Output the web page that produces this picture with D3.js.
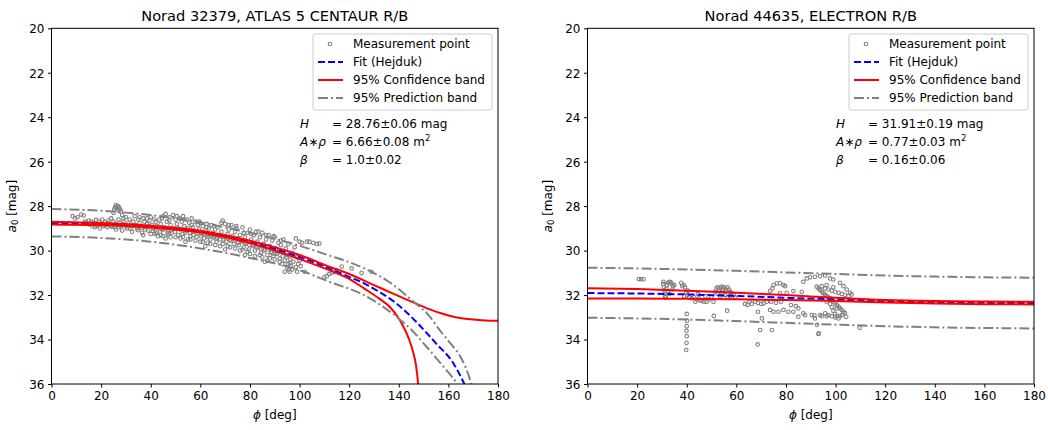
<!DOCTYPE html>
<html>
<head>
<meta charset="utf-8">
<script src="https://cdn.jsdelivr.net/npm/d3@7/dist/d3.min.js"></script>
<style>
  body { margin: 0; background: #fff; }
  svg { font-family: "DejaVu Sans", sans-serif; }
</style>
</head>
<body>
<svg id="chart" width="1048" height="430"></svg>
<script>
// ---- data ----
const xTicks = [0, 20, 40, 60, 80, 100, 120, 140, 160, 180];
const yTicks = [20, 22, 24, 26, 28, 30, 32, 34, 36];
const legendLabels = ["Measurement point", "Fit (Hejduk)", "95% Confidence band", "95% Prediction band"];

const titles = ["Norad 32379, ATLAS 5 CENTAUR R/B", "Norad 44635, ELECTRON R/B"];
const fitParams = [
  ["28.76±0.06 mag", "6.66±0.08 m", "1.0±0.02"],
  ["31.91±0.19 mag", "0.77±0.03 m", "0.16±0.06"]
];

// left: ATLAS 5 CENTAUR R/B
const leftFit = [[0,28.76],[20,28.8],[40,28.92],[60,29.15],[80,29.61],[100,30.29],[112,30.8],[120,31.18],[126,31.47],[132,31.85],[139,32.37],[147,33.2],[155,34.17],[162,35.07],[166,35.9],[168,36.4]];
const leftConfUp = [[0,28.7],[20,28.76],[40,28.88],[60,29.11],[80,29.56],[100,30.2],[112,30.72],[120,31.05],[130,31.55],[140,32.05],[146,32.34],[152,32.62],[157,32.82],[163,33.0],[169,33.09],[175,33.14],[180,33.15]];
const leftConfLo = [[0,28.82],[20,28.85],[40,28.96],[60,29.19],[80,29.66],[100,30.38],[112,30.88],[120,31.27],[126,31.7],[132,32.15],[136.5,32.55],[140,33.05],[142,33.45],[144,33.95],[145.5,34.45],[147,35.2],[147.8,36.0],[148.3,36.8]];
const leftPredUp = [[0,28.13],[20,28.21],[40,28.4],[60,28.73],[80,29.2],[100,29.78],[112,30.22],[120,30.52],[128,30.9],[136,31.4],[146,32.3],[152,32.9],[157,33.65],[161,34.2],[165,34.8],[169,35.9],[170.5,36.5]];
const leftPredLo = [[0,29.36],[20,29.43],[40,29.6],[60,29.9],[80,30.33],[100,30.88],[112,31.4],[126,32.0],[139,32.97],[145,33.55],[150,34.17],[158,35.22],[163.5,36.0],[165,36.3]];
const leftPoints = [
  [8.5,28.45],[9.5,28.55],[10.5,28.5],[12,28.38],[13,28.42],[13.5,28.7],[14,28.75],[15,28.65],[15.5,28.8],[16,28.7],[16.5,28.9],[17,28.75],[17.5,28.95],[18,28.62],[18.5,28.85],[19,28.7],[19.5,29.0],[20,28.78],[20.5,28.6],[21,28.9],[21.5,28.72],[22,28.85],[22.5,28.95],[23,28.65],[23.5,28.8],[24,28.55],[24.5,28.9],
  [25,28.3],[25.3,28.15],[25.6,28.05],[26,27.95],[26.3,28.1],[26.7,28.0],[27,28.2],[27.3,28.05],[27.7,28.15],[28,28.25],[28.5,28.4],[29,28.55],
  [25,28.7],[25.5,28.95],[26,29.05],[26.5,28.85],[27,28.6],[27.5,28.75],[28,28.9],[28.5,29.1],[29,28.7],[29.5,28.85],[30,28.5],[30.5,29.0],[31,28.75],[31.5,28.6],[32,28.9],[32.5,29.15],[33,28.7],[33.5,28.45],[34,28.85],[34.5,29.0],[35,28.6],[35.5,28.75],[36,28.9],[36.5,29.2],[37,28.55],[37.5,28.7],[38,28.95],[38.5,28.8],[39,29.1],[39.5,28.65],
  [40,28.5],[40.5,28.85],[41,29.0],[41.5,29.25],[42,28.7],[42.5,28.9],[43,29.35],[43.5,28.6],[44,28.8],[44.5,29.05],[45,28.45],[45.5,28.95],[46,28.35],[46.5,28.7],[47,29.1],[47.5,28.5],[48,28.85],[48.5,29.2],[49,28.4],[49.5,29.0],[50,28.6],[50.5,28.8],[51,29.3],[51.5,28.55],[52,29.05],[52.5,28.7],[53,28.45],[53.5,28.9],[54,29.2],[54.5,28.6],[55,29.0],[55.5,28.75],[56,29.35],[56.5,28.55],[57,28.95],[57.5,29.15],[58,28.7],[58.5,29.4],[59,28.85],[59.5,29.05],
  [60,28.75],[60.5,29.25],[61,28.9],[61.5,29.45],[62,29.1],[62.5,28.8],[63,29.3],[63.5,29.0],[64,29.5],[64.5,28.85],[65,29.2],[65.5,29.4],[66,29.05],[66.5,29.6],[67,28.95],[67.5,29.3],[68,29.5],[68.5,29.15],[69,28.65],[69.5,29.4],[70,28.8],[70.5,29.6],[71,29.25],[71.5,29.05],[72,29.5],[72.5,28.85],[73,29.35],[73.5,29.7],[74,29.15],[74.5,28.9],[75,29.45],[75.5,29.75],[76,29.3],[76.5,29.55],[77,28.95],[77.5,29.85],[78,29.4],[78.5,29.65],[79,29.2],[79.5,29.95],
  [80,29.05],[80.5,29.5],[81,29.75],[81.5,29.3],[82,30.0],[82.5,29.15],[83,29.6],[83.5,29.85],[84,29.4],[84.5,30.1],[85,29.2],[85.5,29.7],[86,29.95],[86.5,29.5],[87,30.2],[87.5,29.3],[88,29.8],[88.5,30.05],[89,29.55],[89.5,30.25],[90,29.4],[90.5,29.9],[91,30.15],[91.5,29.65],[92,30.35],[92.5,29.75],[93,30.05],[93.5,29.5],[94,30.45],[94.5,29.9],[95,30.2],[95.3,30.6],[95.6,30.85],[96,30.95],[96.3,30.4],[96.6,30.7],[97,30.1],[97.5,30.5],[98,29.85],[98.5,30.75],[99,30.3],[99.5,30.6],
  [100,29.6],[100.5,30.7],[101,29.65],[102,30.95],[103,29.6],[104,29.6],[105.5,29.65],[107,29.7],[108,29.68],[110,31.2],[111,31.15],[112,31.05],[113,31.0],[114,30.95],[115,30.9],[117,30.72],[121,30.8],[125,31.0],[129,30.95],
  [15.2,28.82],[16.8,28.78],[18.3,28.88],[19.7,28.8],[21.2,28.83],[22.8,28.76],[24.2,28.92],[25.8,28.8],[27.2,28.95],[28.8,28.82],[30.2,28.92],[31.8,29.02],[33.2,28.88],[34.8,29.08],[36.2,28.98],[37.8,29.05],[39.2,28.9],[40.8,29.12],[42.2,29.0],[43.8,29.15],[45.2,29.05],[46.8,29.2],[48.2,29.1],[49.8,29.15],[51.2,29.0],[52.8,29.25],[54.2,29.1],[55.8,29.2],[57.2,29.3],[58.8,29.2],
  [60.2,29.35],[61.8,29.25],[63.2,29.4],[64.8,29.3],[66.2,29.45],[67.8,29.35],[69.2,29.5],[70.8,29.4],[72.2,29.55],[73.8,29.5],[75.2,29.65],[76.8,29.6],[78.2,29.7],[79.8,29.75],[81.2,29.8],[82.8,29.85],[84.2,29.9],[85.8,30.0],[87.2,29.95],[88.8,30.1],[90.2,30.15],[91.8,30.05],[93.2,30.25],[94.8,30.3],
  [35.5,28.5],[38.5,28.55],[41.5,28.6],[44.5,28.55],[47.5,28.65],[50.5,28.45],[53.5,28.6],[56.5,28.85],[59.5,28.7],[62.5,28.95],[65.5,28.9],[68.5,28.75],[71.5,28.85],[74.5,29.0],[77.5,29.2],[80.5,29.25],[83.5,29.15],[86.5,29.3],[89.5,29.35],[92.5,29.55],[95.5,29.7],[98.5,29.45],
  [37,29.3],[40,29.25],[44,29.3],[48,29.4],[52,29.45],[56,29.5],[60,29.6],[64,29.7],[68,29.8],[72,29.85],[76,30.0],[80,30.15],[84,30.2],[88,30.35],[92,30.5],[96,30.55],[100,30.45],
  [42,29.2],[45,29.35],[47,29.28],[50,29.4],[53,29.38],[55,29.5],[58,29.55],[61,29.6],[63,29.65],[66,29.75],[69,29.7],[71,29.8],[74,29.9],[77,29.95],[79,30.05],[82,30.25],[85,30.3],[87,30.45],[90,30.4],[93,30.6],[95,30.75],[97,30.85],
  [46,29.45],[54,29.6],[62,29.8],[70,29.95],[78,30.2],[86,30.5],[94,30.95],[99,30.95]
];

// right: ELECTRON R/B
const rightFit = [[0,31.91],[20,31.93],[40,31.97],[60,32.04],[80,32.12],[100,32.2],[120,32.28],[140,32.33],[160,32.35],[180,32.36]];
const rightConfUp = [[0,31.69],[20,31.73],[40,31.8],[60,31.9],[80,32.0],[100,32.12],[120,32.22],[140,32.27],[160,32.29],[180,32.3]];
const rightConfLo = [[0,32.15],[20,32.15],[40,32.17],[60,32.19],[80,32.22],[100,32.27],[120,32.33],[140,32.38],[160,32.41],[180,32.42]];
const rightPredUp = [[0,30.77],[20,30.8],[40,30.85],[60,30.91],[80,30.98],[100,31.05],[120,31.12],[140,31.17],[160,31.2],[180,31.22]];
const rightPredLo = [[0,33.02],[20,33.05],[40,33.1],[60,33.17],[80,33.25],[100,33.33],[120,33.4],[140,33.45],[160,33.48],[180,33.5]];
const rightPoints = [
  [20.7,31.28],[21.6,31.28],[22.6,31.29],
  [30.5,31.5],[30.8,31.65],[31,31.8],[31.2,31.95],[31.5,32.05],[32,31.55],[32.5,31.45],[33,31.4],[33.5,31.42],[34,31.5],[34.5,31.6],[35,31.55],[31.8,31.7],[32.3,31.85],[33,31.95],[31.3,32.1],[30.6,31.4],[34.2,31.75],
  [37.8,31.45],[38.2,31.6],[38.8,31.55],[39.3,31.65],[39.8,31.9],[40.2,32.0],[40.5,31.8],[39,32.05],
  [40,32.85],[40.1,33.15],[40,33.4],[39.9,33.6],[40,33.85],[39.9,34.15],[39.8,34.47],
  [41,32.1],[42,32.15],[43,32.1],[44,32.2],[45,32.15],[46,32.25],[47,32.3],[48,32.3],[49,32.2],[50,32.1],[43.5,32.3],[45.5,32.25],[44.5,31.95],[47.5,32.05],[50.8,32.3],[50.9,32.94],
  [51.5,31.85],[52,31.7],[52.5,31.65],[53,31.8],[53.5,31.7],[54,31.62],[54.5,31.75],[55,31.65],[55.5,31.7],[56,31.8],[56.5,31.65],[57,31.75],[57.5,31.85],[58,31.9],[52.5,31.95],[53.5,32.05],[54.5,31.9],[55.5,32.0],[56.5,32.1],[57.5,32.05],[56.3,32.7],
  [59,32.0],[59.5,32.1],[63.5,32.4],[64.5,32.45],[65.3,32.3],[66.2,32.4],[67.6,32.3],[68.7,32.35],
  [68.7,32.75],[68.6,34.22],[69.6,33.57],[70.3,33.05],[74.3,33.57],
  [73.6,31.82],[75,31.55],[76.3,31.47],[77.6,31.47],[79,31.55],[79.7,31.6],[77.6,31.92],[80.3,31.9],[83,31.82],[86.4,31.85],[74.5,31.7],
  [71,32.37],[72.3,32.3],[73.6,32.67],[75,32.75],[77,32.75],[79,32.67],[81,32.75],[83,32.75],[85,32.6],[85,32.97],[87,32.82],[70,32.4],[74,32.3],[76,32.35],[78,32.3],[82,32.45],[84,32.5],
  [87,31.4],[88.4,31.25],[89.7,31.2],[91.7,31.18],[93.8,31.15],[95.8,31.12],[97.8,31.25],[99.1,31.3],[101.8,31.45],[103.2,31.6],[104.5,31.75],[105.8,31.9],[106.5,31.97],
  [87.7,32.9],[90.4,32.9],[91.7,33.05],[92.5,33.34],[93.2,33.72],[93.8,32.9],[95.8,32.82],[109.7,33.47],
  [92.4,31.62],[93.1,31.7],[93.8,31.77],[94.4,31.85],[95.1,31.92],[95.8,31.98],[96.4,32.05],[97.1,32.1],[97.8,32.15],[98.5,32.22],[99.1,32.3],[99.8,32.37],[100.5,32.45],[101.2,32.52],[101.8,32.6],[102.5,32.67],[103.2,32.75],[103.8,32.8],
  [94.4,31.6],[95.8,31.7],[97.1,31.75],[98.5,31.8],[99.8,31.85],[101.2,31.9],[102.5,31.95],[103.8,32.0],[105.2,32.05],[96.4,31.55],[99.1,31.65],
  [97.8,32.4],[98.5,32.55],[99.1,32.7],[99.8,32.85],[100.5,32.95],[101.2,33.05],[98.5,32.95],[99.8,33.0],[101.8,32.95],[96.4,32.3],[100.5,32.6],[97.1,32.9],
  [91.5,32.92],[94.4,32.95],[96.4,32.95],[102.5,32.9],[104.3,32.98],[93.1,33.75]
];

const panels = [
  { x0: 51.5, x1: 498, title: titles[0], params: fitParams[0], points: leftPoints,
    fit: leftFit, confUp: leftConfUp, confLo: leftConfLo, predUp: leftPredUp, predLo: leftPredLo },
  { x0: 587.5, x1: 1034, title: titles[1], params: fitParams[1], points: rightPoints,
    fit: rightFit, confUp: rightConfUp, confLo: rightConfLo, predUp: rightPredUp, predLo: rightPredLo }
];

const svg = d3.select("#chart");
const yTop = 28.3, yBottom = 384;
const grey = "#808080";
const fs = 12;
const dashFit = "7,3", dashPred = "10,3,2,3";

panels.forEach((p, i) => {
  const x = d3.scaleLinear().domain([0, 180]).range([p.x0, p.x1]);
  const y = d3.scaleLinear().domain([20, 36]).range([yTop, yBottom]);
  const g = svg.append("g");

  const clipId = "clip" + i;
  svg.append("clipPath").attr("id", clipId)
    .append("rect").attr("x", p.x0).attr("y", yTop).attr("width", p.x1 - p.x0).attr("height", yBottom - yTop);

  const plot = g.append("g").attr("clip-path", "url(#" + clipId + ")");

  // measurement points
  plot.selectAll("circle.pt").data(p.points).enter()
    .append("circle").attr("class", "pt")
    .attr("cx", d => x(d[0])).attr("cy", d => y(d[1]))
    .attr("r", 1.8)
    .attr("fill", "none").attr("stroke", grey).attr("stroke-width", 1.1);

  const line = d3.line().x(d => x(d[0])).y(d => y(d[1])).curve(d3.curveMonotoneX);

  const drawLine = (data, color, dash) => {
    plot.append("path").attr("d", line(data))
      .attr("fill", "none").attr("stroke", color).attr("stroke-width", 2)
      .attr("stroke-dasharray", dash);
  };
  drawLine(p.fit, "#0000ff", dashFit);
  drawLine(p.confUp, "#ff0000", null);
  drawLine(p.confLo, "#ff0000", null);
  drawLine(p.predUp, grey, dashPred);
  drawLine(p.predLo, grey, dashPred);

  // axes
  const xAxis = d3.axisBottom(x).tickValues(xTicks).tickSize(3.5).tickPadding(3.5).tickFormat(d3.format("d"));
  const yAxis = d3.axisLeft(y).tickValues(yTicks).tickSize(3.5).tickPadding(3.5).tickFormat(d3.format("d"));
  const ax = g.append("g").attr("transform", `translate(0,${yBottom})`).call(xAxis);
  const ay = g.append("g").attr("transform", `translate(${p.x0},0)`).call(yAxis);
  [ax, ay].forEach(a => {
    a.select(".domain").remove();
    a.selectAll("text").attr("font-size", fs).attr("fill", "#000").attr("font-family", "DejaVu Sans");
    a.selectAll("line").attr("stroke", "#000").attr("stroke-width", 1);
  });
  ay.selectAll("text").attr("dy", "0.36em");

  g.append("rect").attr("x", p.x0).attr("y", yTop).attr("width", p.x1 - p.x0).attr("height", yBottom - yTop)
    .attr("fill", "none").attr("stroke", "#000").attr("stroke-width", 1);

  // titles and labels
  g.append("text").attr("x", (p.x0 + p.x1) / 2).attr("y", 21).attr("text-anchor", "middle")
    .attr("font-size", 14.6).text(p.title);
  const xl = g.append("text").attr("x", (p.x0 + p.x1) / 2).attr("y", 419).attr("text-anchor", "middle")
    .attr("font-size", fs);
  xl.append("tspan").attr("font-style", "italic").text("ϕ");
  xl.append("tspan").text(" [deg]");
  const yl = g.append("text").attr("transform", `translate(${p.x0 - 36},${(yTop + yBottom) / 2}) rotate(-90)`)
    .attr("text-anchor", "middle").attr("font-size", fs);
  yl.append("tspan").attr("font-style", "italic").text("a");
  yl.append("tspan").attr("font-size", 8.5).attr("dy", 2.5).text("0");
  yl.append("tspan").attr("dy", -2.5).text(" [mag]");

  // legend
  const L = p.x1 - 185, T = 34;
  const leg = g.append("g");
  leg.append("rect").attr("x", L).attr("y", T).attr("width", 179).attr("height", 76).attr("rx", 2.5)
    .attr("fill", "#fff").attr("fill-opacity", 0.8).attr("stroke", "#cccccc").attr("stroke-width", 1);
  const rowY = [44, 62, 80, 98];
  leg.append("circle").attr("cx", L + 17).attr("cy", rowY[0]).attr("r", 1.8)
    .attr("fill", "none").attr("stroke", grey).attr("stroke-width", 1.1);
  const legLine = (row, color, dash) => leg.append("line")
    .attr("x1", L + 5).attr("x2", L + 30).attr("y1", rowY[row]).attr("y2", rowY[row])
    .attr("stroke", color).attr("stroke-width", 2).attr("stroke-dasharray", dash);
  legLine(1, "#0000ff", dashFit);
  legLine(2, "#ff0000", null);
  legLine(3, grey, dashPred);
  legendLabels.forEach((t, k) => {
    leg.append("text").attr("x", L + 40).attr("y", rowY[k]).attr("dy", "0.36em")
      .attr("font-size", fs).text(t);
  });

  // fit parameters
  const ann = g.append("g").attr("font-size", fs);
  const ax0 = p.x0 + 248.5, ax1 = ax0 + 32;
  const rows = [124, 142, 160];
  ann.append("text").attr("x", ax0).attr("y", rows[0] + 4).attr("font-style", "italic").text("H");
  ann.append("text").attr("x", ax1).attr("y", rows[0] + 4).text("= " + p.params[0]);
  const t2 = ann.append("text").attr("x", ax0).attr("y", rows[1] + 4);
  t2.append("tspan").attr("font-style", "italic").text("A");
  t2.append("tspan").text("∗");
  t2.append("tspan").attr("font-style", "italic").text("ρ");
  ann.append("text").attr("x", ax1).attr("y", rows[1] + 4)
    .call(t => {
      t.append("tspan").text("= " + p.params[1]);
      t.append("tspan").attr("font-size", 8.5).attr("dy", -5).text("2");
    });
  ann.append("text").attr("x", ax0).attr("y", rows[2] + 4).attr("font-style", "italic").text("β");
  ann.append("text").attr("x", ax1).attr("y", rows[2] + 4).text("= " + p.params[2]);
});
</script>
</body>
</html>
